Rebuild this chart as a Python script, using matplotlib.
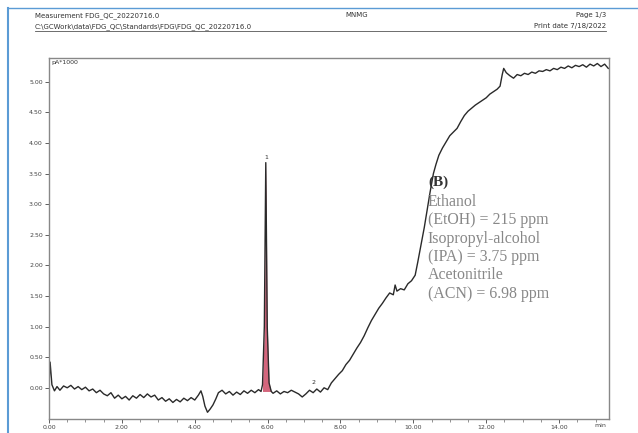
import numpy as np
import matplotlib
matplotlib.use("Agg")
import matplotlib.pyplot as plt
from matplotlib.ticker import MultipleLocator, FormatStrFormatter

# retention time (min) and detector signal (pA*1000)
baseline_time = [0.0, 0.03, 0.08, 0.15, 0.22, 0.3, 0.4, 0.5, 0.6, 0.7, 0.8, 0.9,
                 1.0, 1.1, 1.2, 1.3, 1.4, 1.5, 1.6, 1.7, 1.8, 1.9, 2.0, 2.1, 2.2,
                 2.3, 2.4, 2.5, 2.6, 2.7, 2.8, 2.9, 3.0, 3.1, 3.2, 3.3, 3.4, 3.5,
                 3.6, 3.7, 3.8, 3.9, 4.0, 4.1, 4.17, 4.22, 4.28, 4.35, 4.42, 4.5,
                 4.58, 4.65, 4.75, 4.85, 4.95, 5.05, 5.15, 5.25, 5.35, 5.45, 5.55,
                 5.65, 5.75, 5.82]
baseline_signal = [0.05, 0.42, 0.05, -0.05, 0.02, -0.04, 0.03, 0.0, 0.04, -0.02,
                   0.02, -0.03, 0.01, -0.05, -0.02, -0.08, -0.04, -0.1, -0.13,
                   -0.08, -0.17, -0.12, -0.18, -0.14, -0.2, -0.13, -0.17, -0.11,
                   -0.16, -0.1, -0.15, -0.12, -0.2, -0.16, -0.22, -0.18, -0.24,
                   -0.19, -0.23, -0.17, -0.21, -0.16, -0.2, -0.12, -0.05, -0.14,
                   -0.3, -0.4, -0.35, -0.28, -0.18, -0.08, -0.04, -0.1, -0.06,
                   -0.12, -0.07, -0.11, -0.05, -0.09, -0.04, -0.08, -0.03, -0.06]

peak_time = [5.86, 5.91, 5.95, 5.99, 6.04, 6.1]
peak_signal = [0.05, 1.0, 3.68, 1.0, 0.08, -0.06]

drift_time = [6.15, 6.25, 6.35, 6.45, 6.55, 6.65, 6.75, 6.85, 6.95, 7.05, 7.15,
              7.25, 7.35, 7.45, 7.55, 7.65, 7.75, 7.85, 7.95, 8.05, 8.15, 8.25,
              8.35, 8.45, 8.55, 8.65, 8.75, 8.85, 8.95, 9.05, 9.15, 9.25, 9.35,
              9.45, 9.5, 9.55, 9.65, 9.75, 9.85, 9.95, 10.05, 10.12, 10.2, 10.3,
              10.38, 10.46, 10.55, 10.62, 10.7, 10.8, 10.9, 11.0, 11.1, 11.2,
              11.3, 11.4, 11.5, 11.6, 11.7, 11.8, 11.9, 12.0, 12.1, 12.2, 12.3,
              12.38, 12.44, 12.48, 12.55, 12.65, 12.75, 12.85, 12.95, 13.05,
              13.15, 13.25, 13.35, 13.45, 13.55, 13.65, 13.75, 13.85, 13.95,
              14.05, 14.15, 14.25, 14.35, 14.45, 14.55, 14.65, 14.75, 14.85,
              14.95, 15.05, 15.15, 15.25, 15.35]
drift_signal = [-0.09, -0.05, -0.1, -0.06, -0.08, -0.04, -0.07, -0.1, -0.15,
                -0.1, -0.04, -0.08, -0.02, -0.07, 0.0, -0.03, 0.08, 0.15, 0.22,
                0.28, 0.38, 0.45, 0.55, 0.65, 0.74, 0.85, 0.98, 1.1, 1.2, 1.3,
                1.38, 1.47, 1.55, 1.52, 1.68, 1.58, 1.62, 1.6, 1.7, 1.75, 1.84,
                2.05, 2.3, 2.62, 2.91, 3.2, 3.5, 3.65, 3.8, 3.92, 4.02, 4.12,
                4.18, 4.24, 4.35, 4.45, 4.52, 4.57, 4.62, 4.66, 4.7, 4.74, 4.8,
                4.84, 4.88, 4.93, 5.12, 5.22, 5.15, 5.1, 5.06, 5.12, 5.1, 5.14,
                5.12, 5.16, 5.14, 5.18, 5.17, 5.2, 5.18, 5.22, 5.2, 5.24, 5.22,
                5.26, 5.23, 5.27, 5.25, 5.28, 5.24, 5.29, 5.26, 5.3, 5.25, 5.29,
                5.22]

y_ticks = [0.0, 0.5, 1.0, 1.5, 2.0, 2.5, 3.0, 3.5, 4.0, 4.5, 5.0]

peak_labels = ["1", "2"]
peak_label_time = [5.95, 7.25]
peak_label_signal = [3.72, 0.05]

note_lines = ["Ethanol", "(EtOH) = 215 ppm", "Isopropyl-alcohol",
              "(IPA) = 3.75 ppm", "Acetonitrile", "(ACN) = 6.98 ppm"]

time = np.array(baseline_time + peak_time + drift_time)
signal = np.array(baseline_signal + peak_signal + drift_signal)

fig = plt.figure(figsize=(6.38, 4.33), dpi=100)
fig.patch.set_facecolor("white")

# page header of the printed report
hdr = dict(fontsize=5, color="#333333", family="DejaVu Sans")
fig.text(35 / 638, 1 - 17 / 433, "Measurement FDG_QC_20220716.0", **hdr)
fig.text(35 / 638, 1 - 28 / 433,
         "C:\\GCWork\\data\\FDG_QC\\Standards\\FDG\\FDG_QC_20220716.0", **hdr)
fig.text(345 / 638, 1 - 17 / 433, "MNMG", **hdr)
fig.text(606 / 638, 1 - 17 / 433, "Page 1/3", ha="right", **hdr)
fig.text(606 / 638, 1 - 28 / 433, "Print date 7/18/2022", ha="right", **hdr)
fig.add_artist(plt.Line2D([35 / 638, 606 / 638], [1 - 31 / 433, 1 - 31 / 433],
                          color="#555555", lw=0.6))
# blue frame lines at the page edge
fig.add_artist(plt.Line2D([8 / 638, 8 / 638], [0, 1 - 8 / 433],
                          color="#5b9bd5", lw=1.5))
fig.add_artist(plt.Line2D([8 / 638, 1], [1 - 8 / 433, 1 - 8 / 433],
                          color="#5b9bd5", lw=1.0))

ax = fig.add_axes([49 / 638, 1 - 419 / 433, 560 / 638, 361 / 433])
ax.plot(time, signal, color="#2a2a2a", lw=1.0)
ax.fill_between(peak_time, -0.06, peak_signal, color="#c8405c", alpha=0.8, lw=0)

ax.set_xlim(0, 15.37)
ax.set_ylim(-0.51, 5.39)
ax.xaxis.set_major_locator(MultipleLocator(2))
ax.xaxis.set_minor_locator(MultipleLocator(0.5))
ax.set_yticks(y_ticks)
ax.xaxis.set_major_formatter(FormatStrFormatter("%.2f"))
ax.yaxis.set_major_formatter(FormatStrFormatter("%.2f"))
ax.tick_params(axis="both", labelsize=4.5, colors="#444444", length=3, width=0.6,
               pad=1.5)
ax.tick_params(axis="x", which="minor", length=2, width=0.5, colors="#666666")
for side in ax.spines.values():
    side.set_color("#888888")
    side.set_linewidth(1.0)

ax.text(0.005, 0.995, "pA*1000", transform=ax.transAxes, fontsize=4.5,
        color="#333333", va="top", ha="left")
ax.text(0.995, -0.012, "min", transform=ax.transAxes, fontsize=4.5,
        color="#444444", ha="right", va="top")

for lab, t, s in zip(peak_labels, peak_label_time, peak_label_signal):
    ax.text(t, s, lab, fontsize=4.5, color="#333333", ha="center", va="bottom")

ax.text(10.4, 3.47, "(B)", fontsize=11, fontweight="bold", color="#333333",
        family="Liberation Serif", va="top")
ax.text(10.4, 3.17, "\n".join(note_lines), fontsize=11.4, color="#888888",
        family="Liberation Serif", va="top", linespacing=1.2)

fig.savefig("out.png", dpi=100)
